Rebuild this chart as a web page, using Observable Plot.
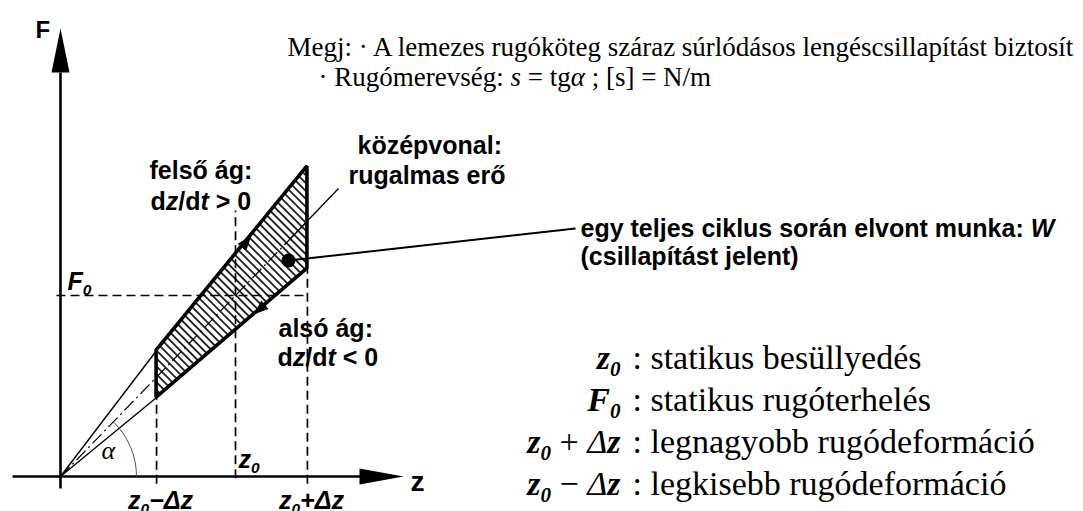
<!DOCTYPE html>
<html><head><meta charset="utf-8">
<script src="https://cdn.jsdelivr.net/npm/d3@7"></script>
<script src="https://cdn.jsdelivr.net/npm/@observablehq/plot@0.6"></script>
<style>html,body{margin:0;padding:0;background:#fff;} svg{display:block}</style>
</head><body><div id="chart"></div>
<script>
// ---------- data (z in units of z0, F in units of F0) ----------
const zLevels = [0.549, 1.0, 1.411];                 // z0−Δz, z0, z0+Δz
const zLevelLabels = ["z<sub>0</sub>−Δz", "z<sub>0</sub>", "z<sub>0</sub>+Δz"];
const F0 = 1.0;
const upperBranchF = [0.696, 1.713];                 // at z0−Δz, z0+Δz
const lowerBranchF = [0.436, 1.149];                 // at z0−Δz, z0+Δz
const centerLineZ = [0, 1.411];
const centerLineF = [0, 1.411];
const workPoint = [1.303, 1.193];
const upperArrowTip = [1.091, 1.331];
const lowerArrowTip = [1.103, 0.895];
const zAxisExtent = [-0.274, 1.714, 1.96];           // start, line end, arrow tip
const fAxisExtent = [-0.066, 2.232, 2.475];
const z0LineTop = 1.47;

const noteLines = [
  "Megj: · A lemezes rugóköteg száraz súrlódásos lengéscsillapítást biztosít",
  "· Rugómerevség: <i>s</i> = tg<i>α</i> ; [s] = N/m"
];
const legendSymbols = ["z<sub>0</sub>", "F<sub>0</sub>",
  "z<sub>0</sub><u><l> + </l></u><l>Δ</l>z", "z<sub>0</sub><u><l> − </l></u><l>Δ</l>z"];
const legendTexts = [": statikus besüllyedés", ": statikus rugóterhelés",
  ": legnagyobb rugódeformáció", ": legkisebb rugódeformáció"];

// ---------- layout (pixel frame -> data units) ----------
const W = 1083, H = 511, OX = 60, OY = 476, KX = 175, KY = 181;
const px = v => (v - OX) / KX;
const py = v => (OY - v) / KY;
const SANS = "Liberation Sans, Arial, sans-serif";
const SERIF = "Liberation Serif, Times New Roman, serif";

function arrowHead(len, halfW, angleDeg) {
  const a = angleDeg * Math.PI / 180, c = Math.cos(a), s = Math.sin(a);
  return {draw(ctx) {
    const bx = -len * c, by = -len * s;
    ctx.moveTo(0, 0);
    ctx.lineTo(bx - halfW * s, by + halfW * c);
    ctx.lineTo(bx + halfW * s, by - halfW * c);
    ctx.closePath();
  }};
}
function arcSymbol(r, a1Deg) {
  const a1 = -a1Deg * Math.PI / 180;
  return {draw(ctx) { ctx.moveTo(r, 0); ctx.arc(0, 0, r, 0, a1, true); }};
}
function label(t, x, y, o = {}) {
  return Plot.text([0], {x: [px(x)], y: [py(y)], text: [t], textAnchor: o.anchor || "start",
    lineAnchor: "bottom", fontFamily: o.family || SANS, fontSize: o.size || 25,
    fontWeight: o.weight || "bold", fontStyle: o.style || "normal"});
}
const seg = (z1, f1, z2, f2) => ({z1, f1, z2, f2});

const marks = [
  // hatched hysteresis area
  Plot.areaY([{z: zLevels[0], lo: lowerBranchF[0], hi: upperBranchF[0]},
              {z: zLevels[2], lo: lowerBranchF[1], hi: upperBranchF[1]}],
    {x: "z", y1: "lo", y2: "hi", fill: "url(#hatch)", stroke: "none"}),
  // dashed guide lines
  Plot.link([seg(zLevels[0], -0.04, zLevels[0], lowerBranchF[0]),
             seg(zLevels[1], -0.01, zLevels[1], z0LineTop),
             seg(zLevels[2], -0.04, zLevels[2], lowerBranchF[1]),
             seg(-0.023, F0, zLevels[2], F0)],
    {x1: "z1", y1: "f1", x2: "z2", y2: "f2", stroke: "black", strokeWidth: 1.7, strokeDasharray: "9,5"}),
  // centre line (dash-dot)
  Plot.link([seg(centerLineZ[0], centerLineF[0], centerLineZ[1], centerLineF[1])],
    {x1: "z1", y1: "f1", x2: "z2", y2: "f2", stroke: "black", strokeWidth: 1.2, strokeDasharray: "13,4,2,4"}),
  // thin lines from origin
  Plot.link([seg(0, 0, zLevels[0], upperBranchF[0]), seg(0, 0, zLevels[0], lowerBranchF[0])],
    {x1: "z1", y1: "f1", x2: "z2", y2: "f2", stroke: "black", strokeWidth: 1.4}),
  // outline of loop
  Plot.areaY([{z: zLevels[0], lo: lowerBranchF[0], hi: upperBranchF[0]},
              {z: zLevels[2], lo: lowerBranchF[1], hi: upperBranchF[1]}],
    {x: "z", y1: "lo", y2: "hi", fill: "none", stroke: "black", strokeWidth: 3.6, strokeLinejoin: "miter"}),
  // axes
  Plot.link([seg(zAxisExtent[0], 0, zAxisExtent[1], 0), seg(0, fAxisExtent[0], 0, fAxisExtent[1])],
    {x1: "z1", y1: "f1", x2: "z2", y2: "f2", stroke: "black", strokeWidth: 2.6}),
  Plot.dot([0], {x: [zAxisExtent[2]], y: [0], symbol: arrowHead(44, 8, 0), fill: "black"}),
  Plot.dot([0], {x: [0], y: [fAxisExtent[2]], symbol: arrowHead(44, 9, -90), fill: "black"}),
  // alpha arc
  Plot.dot([0], {x: [0], y: [0], symbol: arcSymbol(76, 46), stroke: "#555", strokeWidth: 1, fill: "none"}),
  // branch arrows
  Plot.dot([0], {x: [upperArrowTip[0]], y: [upperArrowTip[1]], symbol: arrowHead(15, 5.5, -50.6), fill: "black"}),
  Plot.dot([0], {x: [lowerArrowTip[0]], y: [lowerArrowTip[1]], symbol: arrowHead(15, 5.5, 139.5), fill: "black"}),
  // leaders
  Plot.link([seg(px(338), py(188), px(290), py(238))],
    {x1: "z1", y1: "f1", x2: "z2", y2: "f2", stroke: "black", strokeWidth: 1.3}),
  Plot.link([seg(workPoint[0], workPoint[1], px(575), py(228))],
    {x1: "z1", y1: "f1", x2: "z2", y2: "f2", stroke: "black", strokeWidth: 2}),
  Plot.dot([0], {x: [workPoint[0]], y: [workPoint[1]], r: 7, fill: "black"}),
  // z-level labels under the axis
  Plot.text([0, 2], {x: i => zLevels[i], y: py(508), text: i => zLevelLabels[i], dx: 4,
    textAnchor: "middle", lineAnchor: "bottom", fontFamily: SANS, fontSize: 25,
    fontWeight: "bold", fontStyle: "italic"}),
  label(zLevelLabels[1], 238, 467, {style: "italic"}),
  // texts
  label("F", 35, 37, {size: 24}),
  label(noteLines[0], 287, 55, {family: SERIF, size: 27, weight: "normal"}),
  label(noteLines[1], 318, 85, {family: SERIF, size: 27, weight: "normal"}),
  label("felső ág:", 149, 178),
  label("d<i>z</i>/d<i>t</i> > 0", 150, 209),
  label("középvonal:", 357, 153),
  label("rugalmas erő", 348, 183),
  label("egy teljes ciklus során elvont munka: <i>W</i>", 580, 236),
  label("(csillapítást jelent)", 580, 264),
  label("F<sub>0</sub>", 67, 289, {style: "italic"}),
  label("alsó ág:", 278, 336),
  label("d<i>z</i>/d<i>t</i> < 0", 277, 365),
  label("α", 101, 458, {family: SERIF, size: 26, weight: "normal", style: "italic"}),
  label("z", 410, 490, {size: 28}),
];
const legendBase = [368, 410, 452, 494];
legendSymbols.forEach((s, i) => marks.push(label(s, 620, legendBase[i], {family: SERIF, size: 34, style: "italic", anchor: "end"})));
legendTexts.forEach((s, i) => marks.push(label(s, 632, legendBase[i], {family: SERIF, size: 34, weight: "normal"})));

const svg = Plot.plot({
  width: W, height: H, margin: 0,
  x: {domain: [px(0), px(W)], axis: null},
  y: {domain: [py(H), py(0)], axis: null},
  style: {background: "white", overflow: "visible"},
  marks
});

const ns = "http://www.w3.org/2000/svg";
const defs = document.createElementNS(ns, "defs");
defs.innerHTML = '<pattern id="hatch" patternUnits="userSpaceOnUse" width="5.6" height="20" patternTransform="rotate(-45)"><line x1="2.8" y1="-2" x2="2.8" y2="22" stroke="black" stroke-width="1.6"/></pattern>';
svg.insertBefore(defs, svg.firstChild);

// rich text: <i>, <u> upright, <l> light, <sub>
svg.querySelectorAll("text").forEach(t => {
  const s = t.textContent;
  if (!/<\/?[a-z]+>/.test(s)) return;
  t.textContent = "";
  const stack = []; let inSub = false;
  for (const p of s.split(/(<\/?[a-z]+>)/)) {
    if (!p) continue;
    const m = p.match(/^<(\/?)([a-z]+)>$/);
    if (m) {
      if (m[1]) { const k = stack.lastIndexOf(m[2]); if (k >= 0) stack.splice(k, 1); }
      else stack.push(m[2]);
      continue;
    }
    const ts = document.createElementNS(ns, "tspan");
    ts.textContent = p;
    for (const tag of stack) {
      if (tag === "i") ts.setAttribute("font-style", "italic");
      if (tag === "u") ts.setAttribute("font-style", "normal");
      if (tag === "l") ts.setAttribute("font-weight", "normal");
    }
    const sub = stack.includes("sub");
    if (sub) { ts.setAttribute("font-size", "62%"); if (!inSub) ts.setAttribute("dy", "0.35em"); }
    else if (inSub) ts.setAttribute("dy", "-0.217em");
    inSub = sub;
    t.appendChild(ts);
  }
});
document.getElementById("chart").appendChild(svg);
</script>
</body></html>
